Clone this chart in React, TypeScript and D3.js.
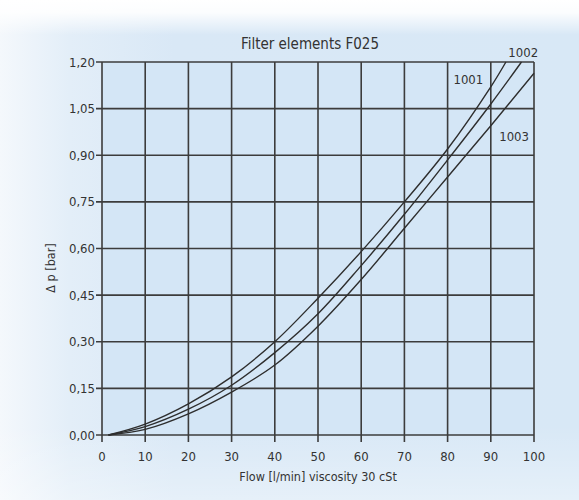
import React from "react";
import * as d3 from "d3";

// Flow [l/min] sample points
const flow1001 = [1.5, 10, 20, 30, 40, 50, 60, 70, 80, 90, 93.5];
const dp1001 = [0, 0.035, 0.1, 0.187, 0.3, 0.44, 0.59, 0.75, 0.92, 1.12, 1.2];

const flow1002 = [1.5, 10, 20, 30, 40, 50, 60, 70, 80, 90, 97.1];
const dp1002 = [0, 0.027, 0.083, 0.16, 0.265, 0.39, 0.545, 0.71, 0.885, 1.065, 1.2];

const flow1003 = [1.5, 10, 20, 30, 40, 50, 60, 70, 80, 90, 100];
const dp1003 = [0, 0.018, 0.068, 0.138, 0.225, 0.35, 0.5, 0.665, 0.83, 0.995, 1.164];

const xTicks = [0, 10, 20, 30, 40, 50, 60, 70, 80, 90, 100];
const yTicks = [0, 0.15, 0.3, 0.45, 0.6, 0.75, 0.9, 1.05, 1.2];

const seriesNames = ["1001", "1002", "1003"];

const W = 579;
const H = 500;
const FONT = "'Liberation Sans Narrow', 'DejaVu Sans Condensed', 'Roboto Condensed', sans-serif";
const INK = "#333";

export default function App() {
  const x = d3.scaleLinear().domain([0, 100]).range([102, 534]);
  const y = d3.scaleLinear().domain([0, 1.2]).range([435, 62]);

  const line = d3
    .line<[number, number]>()
    .x((d) => x(d[0]))
    .y((d) => y(d[1]))
    .curve(d3.curveCatmullRom.alpha(0.5));

  const series = [
    d3.zip(flow1001, dp1001) as [number, number][],
    d3.zip(flow1002, dp1002) as [number, number][],
    d3.zip(flow1003, dp1003) as [number, number][],
  ];

  // label anchors (data coords) next to each curve
  const labelPos: [number, number][] = [
    [84.8, 1.13],
    [97.5, 1.217],
    [95.4, 0.945],
  ];

  return (
    <svg
      width={W}
      height={H}
      style={{ position: "absolute", left: 0, top: 0, display: "block" }}
      fontFamily={FONT}
    >
      <defs>
        <linearGradient id="bgH" x1="0" x2="1" y1="0" y2="0">
          <stop offset="0" stopColor="#f4f8fc" />
          <stop offset="0.12" stopColor="#e3eef8" />
          <stop offset="0.3" stopColor="#d9e8f6" />
          <stop offset="1" stopColor="#d8e8f6" />
        </linearGradient>
        <linearGradient id="bgV" x1="0" x2="0" y1="0" y2="1">
          <stop offset="0" stopColor="#ffffff" stopOpacity={1} />
          <stop offset="0.025" stopColor="#ffffff" stopOpacity={0.9} />
          <stop offset="0.07" stopColor="#ffffff" stopOpacity={0} />
          <stop offset="0.85" stopColor="#ffffff" stopOpacity={0} />
          <stop offset="1" stopColor="#ffffff" stopOpacity={0.35} />
        </linearGradient>
      </defs>
      <rect width={W} height={H} fill="url(#bgH)" />
      <rect width={W} height={H} fill="url(#bgV)" />

      <rect
        x={x(0)}
        y={y(1.2)}
        width={x(100) - x(0)}
        height={y(0) - y(1.2)}
        fill="#d4e6f6"
      />

      {/* grid */}
      {xTicks.map((t) => (
        <g key={"x" + t}>
          <line x1={x(t)} x2={x(t)} y1={y(1.2)} y2={y(0) + 7} stroke="#3c3c3c" strokeWidth={1.6} />
          <text x={x(t)} y={461} textAnchor="middle" fontSize={13} fill={INK}>
            {t}
          </text>
        </g>
      ))}
      {yTicks.map((t) => (
        <g key={"y" + t}>
          <line x1={x(0) - 6} x2={x(100)} y1={y(t)} y2={y(t)} stroke="#3c3c3c" strokeWidth={1.6} />
          <text
            x={95}
            y={y(t)}
            dy="0.35em"
            textAnchor="end"
            fontSize={13}
            fill={INK}
          >
            {t.toFixed(2).replace(".", ",")}
          </text>
        </g>
      ))}

      {/* curves */}
      {series.map((s, i) => (
        <path key={seriesNames[i]} d={line(s) ?? ""} fill="none" stroke="#2e2e2e" strokeWidth={1.4} />
      ))}

      {seriesNames.map((n, i) => (
        <text
          key={"l" + n}
          x={x(labelPos[i][0])}
          y={y(labelPos[i][1])}
          textAnchor="middle"
          fontSize={13}
          fill={INK}
        >
          {n}
        </text>
      ))}

      <text x={310} y={49} textAnchor="middle" fontSize={15} fill={INK}>
        Filter elements F025
      </text>
      <text x={318} y={481} textAnchor="middle" fontSize={12.5} fill={INK}>
        Flow [l/min] viscosity 30 cSt
      </text>
      <text
        transform={`translate(55, 268) rotate(-90)`}
        textAnchor="middle"
        fontSize={12.5}
        fill={INK}
      >
        Δ p [bar]
      </text>
    </svg>
  );
}
